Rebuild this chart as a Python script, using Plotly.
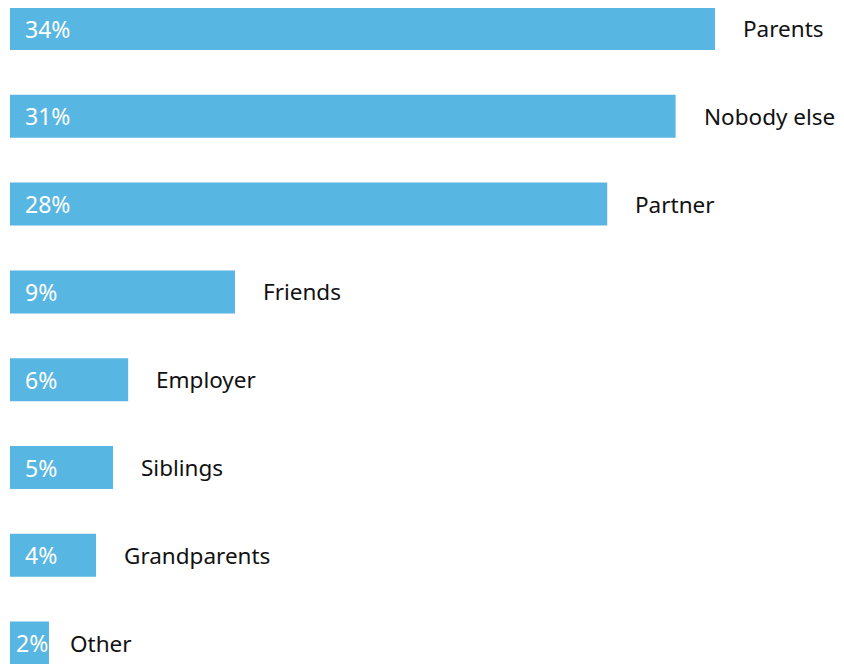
import plotly.graph_objects as go

# -------------------------
# DATA
# -------------------------
categories = ["Parents", "Nobody else", "Partner", "Friends",
              "Employer", "Siblings", "Grandparents", "Other"]
pct_labels = ["34%", "31%", "28%", "9%", "6%", "5%", "4%", "2%"]
# bar lengths as drawn in the source graphic
bar_values = [34.0, 32.1, 28.8, 10.85, 5.7, 4.97, 4.15, 1.88]

BAR_COLOR = "#58B6E2"
FONT = "Noto Sans"

rows = list(range(len(categories)))

fig = go.Figure(go.Bar(
    x=bar_values,
    y=rows,
    orientation="h",
    width=0.49,
    marker=dict(color=BAR_COLOR, line=dict(width=0)),
    hoverinfo="skip",
))

# -------------------------
# LABELS
# -------------------------
annotations = []
for i, (cat, pct, val) in enumerate(zip(categories, pct_labels, bar_values)):
    narrow = val < 3  # percent text spills past a very short bar
    annotations.append(dict(
        x=val, y=i, text=cat, showarrow=False,
        xanchor="left", yanchor="middle", xshift=19 if narrow else 26,
        font=dict(family=FONT, size=22.5, color="#111111"),
    ))
    annotations.append(dict(
        x=0, y=i, text=pct, showarrow=False,
        xanchor="left", yanchor="middle", xshift=4 if narrow else 13,
        font=dict(family=FONT, size=23, color="white"),
    ))

# page body has an 8px margin, so the figure is sized to fill the rest
fig.update_layout(
    width=836,
    height=656,
    margin=dict(l=2, r=0, t=0, b=0),
    paper_bgcolor="white",
    plot_bgcolor="white",
    showlegend=False,
    annotations=annotations,
    xaxis=dict(range=[0, 40.22], visible=False, fixedrange=True),
    yaxis=dict(range=[7.238, -0.2335], visible=False, fixedrange=True),
)

fig.write_html("out.html")
